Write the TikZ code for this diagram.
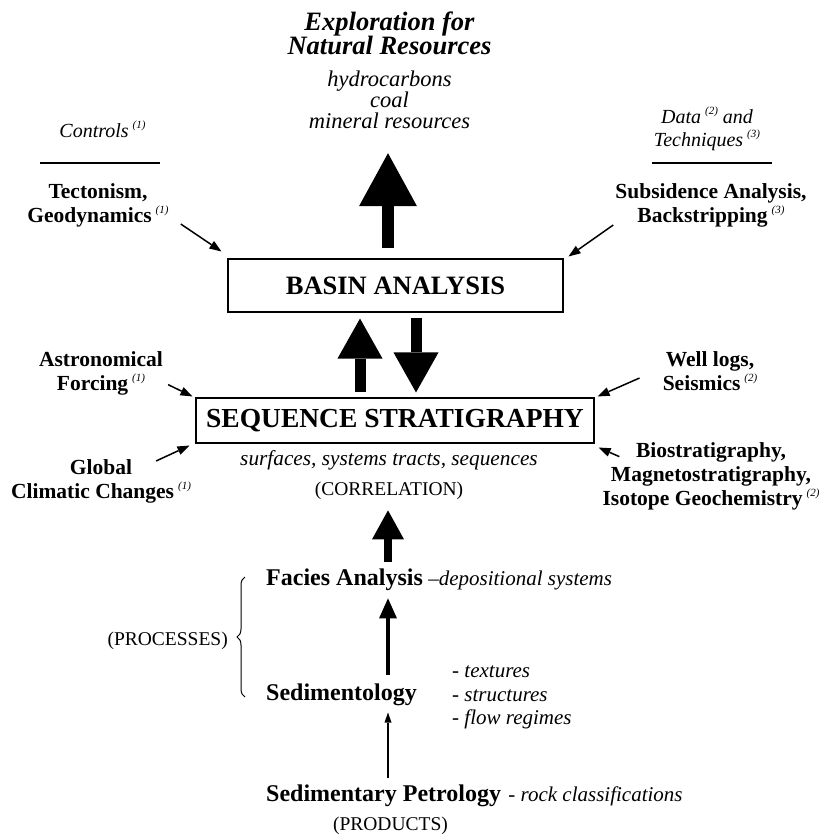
\documentclass[tikz,border=0pt]{standalone}
\usepackage{fontspec}
\setmainfont{Liberation Serif}
\usepackage{tikz}
\usetikzlibrary{positioning}
\usetikzlibrary{arrows.meta,calc,decorations.pathreplacing}
\newcommand{\tightlines}{\lineskiplimit=-20pt\relax}
\tikzstyle{side edge}=[-{Triangle[width=9pt,length=12pt,line width=0pt]},line width=1.5pt]
\tikzstyle{big edge}=[-{Triangle[width=58pt,length=53pt,line width=0pt]},line width=12pt]
\tikzstyle{pair edge}=[-{Triangle[width=45pt,length=40pt,line width=0pt]},line width=11pt]
\tikzstyle{mid edge}=[-{Triangle[width=32pt,length=29pt,line width=0pt]},line width=8pt]
\tikzstyle{small edge}=[-{Triangle[width=18pt,length=20pt,line width=0pt]},line width=4.5pt]
\tikzstyle{thin edge}=[-{Triangle[width=7pt,length=10pt,line width=0pt]},line width=1.2pt]
\tikzstyle{rule line}=[line width=1.2pt]
\tikzstyle{brace edge}=[line width=1pt,decorate,decoration={brace,amplitude=8pt}]
\tikzstyle{box label}=[draw,line width=1.1pt,inner sep=0pt,font=\fontsize{26.5}{30}\selectfont\bfseries]
\tikzstyle{title label}=[align=center,inner sep=0pt,font=\fontsize{26.5}{24.5}\selectfont\bfseries\itshape\tightlines]
\tikzstyle{list label}=[align=center,inner sep=0pt,font=\fontsize{22.5}{21}\selectfont\itshape\tightlines]
\tikzstyle{side label}=[align=center,inner sep=0pt,font=\fontsize{21.5}{24}\selectfont\bfseries]
\tikzstyle{head label}=[align=center,inner sep=0pt,font=\fontsize{20}{23}\selectfont\itshape]
\tikzstyle{step label}=[inner sep=0pt,font=\fontsize{24}{28}\selectfont\bfseries]
\tikzstyle{note label}=[align=left,inner sep=0pt,font=\fontsize{21}{23.5}\selectfont\itshape]
\tikzstyle{plain label}=[inner sep=0pt,font=\fontsize{19.5}{22}\selectfont]
\newcommand{\supnote}[1]{\hspace{4pt}\raisebox{9pt}{\fontsize{11}{11}\selectfont\mdseries\itshape(#1)}}
\newcommand{\labelnode}[3][]{
  \node [anchor=center, #1] (#2) {#3}
}

\begin{document}
\begin{tikzpicture}[x=1pt,y=-1pt]
  \useasboundingbox (0,0) rectangle (819,839);
  \coordinate (axis) at (388,0);
  % main column
  \node [box label, minimum width=335pt, minimum height=53pt] (basin) at (395.5,285.5) {BASIN ANALYSIS\hspace{13pt}};
  \node [box label, font=\fontsize{27.5}{30}\selectfont\bfseries, minimum width=398pt, minimum height=45pt] (seq) at (395,420.5) {SEQUENCE STRATIGRAPHY};
  \node [title label] (explore) at (389.5,33.5) {Exploration for\\Natural Resources};
  \node [list label, below=15.5pt of explore] (resources) {hydrocarbons\\coal\\mineral resources};
  \node [anchor=base, note label, font=\fontsize{21.3}{24}\selectfont\itshape] (surfaces) at (389,465) {surfaces, systems tracts, sequences};
  \node [anchor=base, plain label] (correlation) at (389,495) {(CORRELATION)};
  \node [anchor=base west, step label] (facies) at (266,585) {Facies Analysis};
  \node [base right=5pt of facies, note label] (depositional) {--depositional systems};
  \node [anchor=base west, step label] (sedimentology) at (266,700) {Sedimentology};
  \node [anchor=west, note label] (textures) at (452,697.7) {- textures\\- structures\\- flow regimes};
  \node [anchor=base west, step label] (petrology) at (266,801) {Sedimentary Petrology};
  \node [base right=7pt of petrology, note label] (rocks) {- rock classifications};
  \node [anchor=base, plain label] (products) at (390.5,830) {(PRODUCTS)};
  \node [anchor=base east, plain label] (processes) at (228,645) {(PROCESSES)};
  % controls and data
  \labelnode[head label, anchor=base, at={(102.5,137)}]{controls}{Controls\supnote{1}};
  \labelnode[head label, at={(707,128.8)}]{data}{Data\supnote{2} and\\Techniques\supnote{3}};
  \draw[rule line] (40,163) -- (160,163);
  \draw[rule line] (652,163) -- (772,163);
  \labelnode[side label, at={(98,205)}]{tectonism}{Tectonism,\\Geodynamics\supnote{1}};
  \labelnode[side label, at={(711,205)}]{subsidence}{Subsidence Analysis,\\Backstripping\supnote{3}};
  \labelnode[side label, at={(101,373.6)}]{astronomical}{Astronomical\\Forcing\supnote{1}};
  \labelnode[side label, at={(101,481)}]{climate}{Global\\Climatic Changes\supnote{1}};
  \labelnode[side label, at={(710,371)}]{welllogs}{Well logs,\\Seismics\supnote{2}};
  \labelnode[side label, at={(711,476.6)}]{biostrat}{Biostratigraphy,\\Magnetostratigraphy,\\Isotope Geochemistry\supnote{2}};

  \draw[big edge] ($(basin.north -| axis)+(0,-10)$) -- ($(resources.south -| axis)+(0,24)$);
  \draw[pair edge] ($(seq.north -| axis)+(-28,-5)$) -- ($(basin.south -| axis)+(-28,6)$);
  \draw[pair edge] ($(basin.south -| axis)+(28,5)$) -- ($(seq.north -| axis)+(28,-5)$);
  \draw[mid edge] ($(facies.north -| axis)+(0,-6)$) -- ($(correlation.south -| axis)+(0,11)$);
  \draw[small edge] ($(sedimentology.north -| axis)+(0,-8)$) -- ($(facies.south -| axis)+(0,8)$);
  \draw[thin edge] ($(petrology.north -| axis)+(0,-6)$) -- ($(sedimentology.south -| axis)+(0,7)$);

  \draw[side edge] ([shift={(12,-3)}]tectonism.south east) -- ([shift={(-6,-7)}]basin.north west);
  \draw[side edge] ([shift={(-2,-2)}]subsidence.south west) -- ([shift={(5,-2)}]basin.north east);
  \draw[side edge] ([shift={(5,-11)}]astronomical.south east) -- ([shift={(-3,-1)}]seq.north west);
  \draw[side edge] ([shift={(-35,2)}]climate.north east) -- ([shift={(-6,2)}]seq.south west);
  \draw[side edge] ([shift={(-23,7)}]welllogs.west) -- ([shift={(3,-1)}]seq.north east);
  \draw[side edge] ([shift={(17,14)}]biostrat.north west) -- ([shift={(4,4)}]seq.south east);

  \draw[brace edge] (245,697) -- (245,577);
\end{tikzpicture}
\end{document}
